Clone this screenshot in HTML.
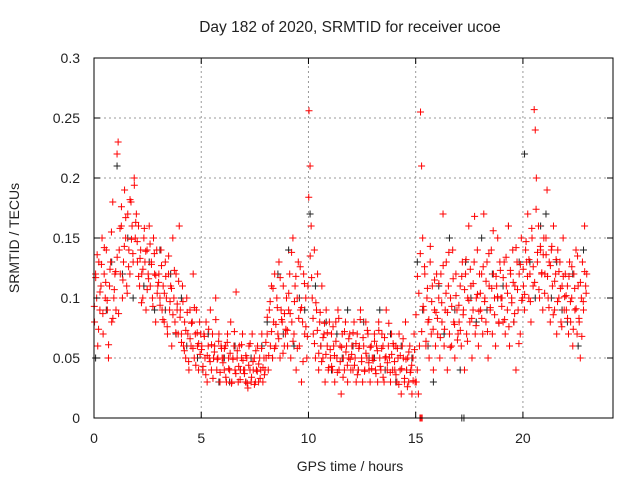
<!DOCTYPE html>
<html><head><meta charset="utf-8"><style>
body{margin:0;background:#fff;}
svg text{font-family:"Liberation Sans",sans-serif;font-size:14px;fill:#222;}
</style></head><body>
<svg id="chart" width="640" height="480">
<rect width="640" height="480" fill="#fff"/>
<g id="grid"></g>
<g id="marks"></g>
<g id="axes"></g>
<text x="350" y="32" text-anchor="middle" style="font-size:15.5px">Day 182 of 2020, SRMTID for receiver ucoe</text>
<text x="350" y="471" text-anchor="middle">GPS time / hours</text>
<text transform="translate(19,238) rotate(-90)" text-anchor="middle">SRMTID / TECUs</text>
</svg>
<script>
const xTicks=[0,5,10,15,20];
const yTicks=[0,0.05,0.1,0.15,0.2,0.25,0.3];
const yTickLabels=["0","0.05","0.1","0.15","0.2","0.25","0.3"];
const redByHour=[
[.08,.12,.10,.06,.13,.09,.11,.15,.07,.12,.10,.14,.09,.05,.11,.13,.08,.18,.10,.12],
[.09,.22,.23,.14,.12,.16,.10,.13,.19,.15,.11,.17,.14,.12,.18,.16,.13,.20,.15,.17],
[.13,.16,.11,.14,.12,.10,.15,.13,.09,.14,.12,.16,.11,.13,.10,.15,.12,.08,.14,.11],
[.12,.10,.14,.09,.11,.08,.13,.10,.07,.12,.09,.11,.06,.15,.10,.08,.12,.09,.07,.16],
[.09,.07,.11,.06,.08,.05,.10,.07,.04,.09,.06,.08,.12,.05,.07,.09,.06,.04,.08,.07],
[.06,.04,.07,.05,.08,.03,.06,.05,.09,.04,.07,.05,.06,.10,.04,.05,.07,.03,.06,.05],
[.05,.04,.06,.03,.07,.05,.04,.08,.03,.05,.06,.04,.105,.05,.03,.06,.04,.05,.07,.04],
[.04,.03,.05,.025,.06,.04,.03,.07,.04,.05,.03,.04,.06,.03,.05,.04,.07,.03,.05,.04],
[.05,.07,.04,.09,.06,.11,.05,.08,.12,.06,.10,.07,.13,.05,.09,.08,.11,.06,.07,.10],
[.06,.09,.12,.05,.08,.15,.07,.11,.04,.10,.13,.06,.09,.03,.08,.12,.07,.10,.05,.11],
[.256,.21,.16,.10,.07,.14,.05,.09,.12,.04,.08,.06,.11,.05,.07,.03,.09,.06,.04,.08],
[.05,.07,.04,.06,.03,.08,.05,.09,.04,.06,.02,.07,.05,.04,.08,.06,.03,.05,.07,.04],
[.06,.04,.08,.05,.03,.07,.04,.06,.09,.05,.03,.06,.04,.08,.05,.07,.04,.03,.06,.05],
[.05,.07,.04,.06,.03,.08,.05,.04,.07,.06,.03,.05,.09,.04,.06,.05,.03,.07,.04,.06],
[.04,.06,.03,.05,.07,.04,.02,.06,.05,.03,.08,.04,.05,.03,.06,.04,.02,.05,.07,.03],
[.03,.04,.02,.06,.255,.21,.15,.09,.12,.06,.10,.08,.05,.13,.07,.11,.04,.09,.06,.12],
[.07,.10,.05,.12,.08,.17,.06,.09,.13,.04,.11,.07,.10,.06,.14,.08,.05,.12,.09,.07],
[.08,.11,.06,.13,.09,.04,.12,.07,.10,.16,.08,.11,.05,.09,.13,.07,.10,.14,.06,.12],
[.09,.12,.07,.17,.10,.08,.13,.05,.11,.09,.14,.07,.12,.10,.06,.11,.15,.08,.13,.10],
[.10,.08,.13,.07,.11,.09,.16,.06,.12,.10,.14,.08,.11,.04,.13,.09,.12,.07,.15,.10],
[.11,.09,.14,.13,.17,.10,.12,.08,.15,.11,.257,.24,.20,.13,.16,.10,.14,.12,.09,.15],
[.12,.15,.19,.10,.13,.08,.14,.11,.16,.09,.12,.07,.14,.10,.13,.08,.11,.15,.09,.12],
[.09,.11,.07,.13,.08,.10,.06,.12,.09,.14,.07,.11,.08,.05,.10,.13,.09,.16,.11,.12]
];
const redByHour2=[
[.093,.117,.136,.074,.105,.128,.087,.142,.113,.098,.061,.124,.155,.083,.107],
[.122,.134,.087,.158,.176,.115,.143,.167,.104,.126,.182,.149,.137,.194,.163],
[.147,.118,.133,.096,.124,.158,.139,.107,.116,.145,.128,.093,.137,.119,.104],
[.113,.094,.127,.082,.104,.118,.076,.135,.097,.108,.086,.123,.071,.095,.114],
[.084,.063,.097,.056,.073,.088,.047,.066,.079,.058,.092,.044,.071,.062,.053],
[.057,.043,.068,.036,.052,.074,.047,.061,.033,.055,.082,.049,.064,.038,.058],
[.046,.058,.034,.063,.041,.054,.029,.049,.072,.037,.056,.043,.032,.061,.048],
[.037,.052,.029,.044,.062,.034,.047,.028,.056,.039,.045,.033,.058,.042,.036],
[.063,.084,.052,.097,.072,.108,.058,.078,.092,.066,.117,.082,.054,.087,.074],
[.073,.104,.087,.138,.064,.097,.118,.058,.083,.126,.092,.047,.112,.076,.068],
[.184,.135,.117,.083,.062,.096,.073,.054,.088,.047,.067,.079,.053,.071,.042],
[.057,.043,.076,.052,.064,.038,.083,.047,.059,.034,.072,.055,.044,.066,.049],
[.053,.071,.044,.062,.036,.058,.082,.047,.067,.039,.054,.073,.046,.059,.041],
[.048,.064,.037,.056,.073,.043,.058,.034,.067,.051,.046,.079,.038,.053,.062],
[.047,.036,.058,.028,.052,.041,.066,.033,.049,.026,.055,.038,.044,.031,.057],
[.086,.118,.104,.137,.072,.093,.126,.064,.108,.082,.143,.097,.074,.115,.088],
[.083,.112,.067,.096,.127,.074,.104,.088,.138,.059,.093,.116,.078,.102,.065],
[.094,.073,.118,.086,.107,.132,.064,.098,.124,.083,.112,.168,.077,.103,.089],
[.104,.083,.126,.097,.114,.072,.137,.092,.108,.156,.086,.118,.101,.079,.123],
[.093,.117,.082,.134,.104,.076,.123,.096,.113,.087,.142,.107,.062,.128,.098],
[.124,.103,.147,.118,.132,.097,.158,.126,.113,.174,.138,.107,.143,.121,.136],
[.104,.136,.118,.092,.127,.143,.086,.114,.132,.097,.122,.108,.076,.118,.101],
[.102,.083,.118,.097,.126,.074,.108,.091,.135,.083,.113,.068,.097,.122,.104]
];
const blackByHour=[
[.05,.11,.09,.13],[.21,.12,.15,.10],[.16,.11,.13,.09],[.14,.09,.12,.07],[.10,.06,.08,.05],
[.04,.07,.05,.03],[.05,.03,.06,.04],[.03,.05,.04,.06],[.08,.05,.12,.07],[.14,.06,.10,.09],
[.17,.11,.06,.08],[.04,.07,.05,.09],[.06,.04,.08,.05],[.05,.09,.04,.07],[.03,.06,.04,.05],
[.13,.09,.06,.03],[.11,.07,.15,.09],[.04,.13,.10,.08],[.15,.09,.12,.10],[.11,.16,.08,.13],
[.22,.13,.10,.16],[.17,.10,.13,.09],[.08,.12,.06,.14]
];
const redZeroTimes=[15.2,15.25,15.3];
const blackZeroTimes=[17.15,17.25];
const X0=94,X1=613,Y0=418,Y1=58,XMAX=24.2,YMAX=0.3;
const sx=t=>X0+(X1-X0)*t/XMAX, sy=v=>Y0-(Y0-Y1)*v/YMAX;
const NS="http://www.w3.org/2000/svg";
function mk(tag,attrs,parent){const e=document.createElementNS(NS,tag);for(const k in attrs)e.setAttribute(k,attrs[k]);parent.appendChild(e);return e;}
const grid=document.getElementById('grid'),marks=document.getElementById('marks'),axes=document.getElementById('axes');
xTicks.forEach(t=>{
 if(t>0){const g=mk('line',{x1:sx(t),x2:sx(t),y1:Y0,y2:Y1,stroke:'#999','stroke-dasharray':'2,3'},grid);
 
 }
 mk('line',{x1:sx(t),x2:sx(t),y1:Y0,y2:Y0-6,stroke:'#000'},axes);
 mk('line',{x1:sx(t),x2:sx(t),y1:Y1,y2:Y1+6,stroke:'#000'},axes);
 const l=mk('text',{x:sx(t),y:Y0+25,'text-anchor':'middle'},axes);l.textContent=t;
 
 
});
yTicks.forEach((v,i)=>{
 if(v>0&&v<YMAX){const g=mk('line',{x1:X0,x2:X1,y1:sy(v),y2:sy(v),stroke:'#999','stroke-dasharray':'2,3'},grid);
 
 }
 mk('line',{x1:X0,x2:X0+6,y1:sy(v),y2:sy(v),stroke:'#000'},axes);
 mk('line',{x1:X1,x2:X1-6,y1:sy(v),y2:sy(v),stroke:'#000'},axes);
 const l=mk('text',{x:X0-14,y:sy(v)+5,'text-anchor':'end'},axes);l.textContent=yTickLabels[i];
 
 
});
const fr=mk('rect',{x:X0,y:Y1,width:X1-X0,height:Y0-Y1,fill:'none',stroke:'#000'},axes);


function plus(t,v,color,name){
 const x=sx(t),y=sy(v);
 const p=mk('path',{d:`M${x-3.5},${y}h7M${x},${y-3.5}v7`,stroke:color,'stroke-width':1,fill:'none'},marks);
 
 
}
function series(rows,color,name,off){
 rows.forEach((row,h)=>row.forEach((v,i)=>plus(h+(i+off)/row.length,v,color,name)));
}
series(blackByHour,'#222','point-black',0.3);
blackZeroTimes.forEach(t=>plus(t,0,'#222','point-black'));
series(redByHour,'#f00','point-red',0.5);
series(redByHour2,'#f00','point-red',0.2);
redZeroTimes.forEach(t=>plus(t,0,'#f00','point-red'));
</script>
</body></html>
